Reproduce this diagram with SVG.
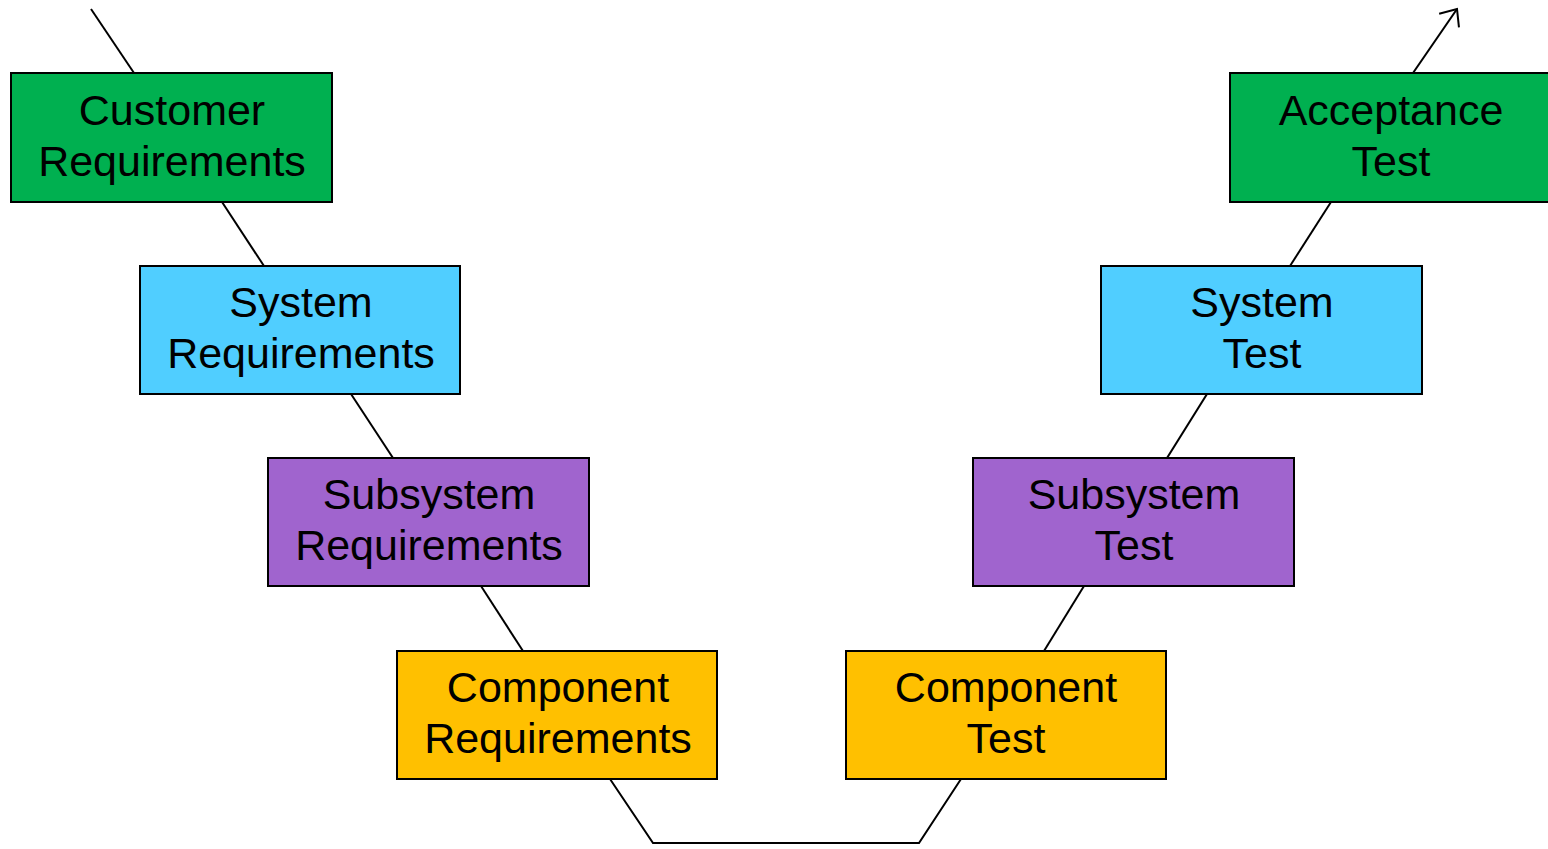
<svg xmlns="http://www.w3.org/2000/svg" width="1548" height="849" viewBox="0 0 1548 849">
  <style>
    .box { stroke: #000; stroke-width: 2; }
    .green { fill: #00B050; }
    .blue { fill: #50CEFF; }
    .purple { fill: #A064CE; }
    .gold { fill: #FFC000; }
    .lbl { font-family: "Liberation Sans", Arial, sans-serif; font-size: 43px; fill: #000; text-anchor: middle; }
    .conn { fill: none; stroke: #000; stroke-width: 2; }
  </style>
  <defs>
    <marker id="open" markerUnits="userSpaceOnUse" markerWidth="30" markerHeight="30" viewBox="-16 -15 20 30" refX="0" refY="0" orient="auto">
      <path d="M -14 -12 L 0 0 L -14 12" fill="none" stroke="#000" stroke-width="2"/>
    </marker>
  </defs>
  <rect width="1548" height="849" fill="#fff"/>
  <g id="connectors">
    <line class="conn" x1="91" y1="9" x2="134" y2="73"/>
    <line class="conn" x1="222" y1="202" x2="264" y2="266"/>
    <line class="conn" x1="351" y1="394" x2="393" y2="458"/>
    <line class="conn" x1="481" y1="586" x2="523" y2="651"/>
    <polyline class="conn" points="610,779 653,843 919,843 961,779"/>
    <line class="conn" x1="1084" y1="586" x2="1044" y2="651"/>
    <line class="conn" x1="1207" y1="394" x2="1167" y2="458"/>
    <line class="conn" x1="1331" y1="202" x2="1290" y2="266"/>
    <line class="conn" x1="1413" y1="73" x2="1457" y2="9" marker-end="url(#open)"/>
  </g>
  <g id="customer-requirements">
    <rect class="box green" x="11" y="73" width="321" height="129"/>
    <text class="lbl" x="172" y="125">Customer</text>
    <text class="lbl" x="172" y="176">Requirements</text>
  </g>
  <g id="system-requirements">
    <rect class="box blue" x="140" y="266" width="320" height="128"/>
    <text class="lbl" x="301" y="317">System</text>
    <text class="lbl" x="301" y="368">Requirements</text>
  </g>
  <g id="subsystem-requirements">
    <rect class="box purple" x="268" y="458" width="321" height="128"/>
    <text class="lbl" x="429" y="509">Subsystem</text>
    <text class="lbl" x="429" y="560">Requirements</text>
  </g>
  <g id="component-requirements">
    <rect class="box gold" x="397" y="651" width="320" height="128"/>
    <text class="lbl" x="558" y="702">Component</text>
    <text class="lbl" x="558" y="753">Requirements</text>
  </g>
  <g id="component-test">
    <rect class="box gold" x="846" y="651" width="320" height="128"/>
    <text class="lbl" x="1006" y="702">Component</text>
    <text class="lbl" x="1006" y="753">Test</text>
  </g>
  <g id="subsystem-test">
    <rect class="box purple" x="973" y="458" width="321" height="128"/>
    <text class="lbl" x="1134" y="509">Subsystem</text>
    <text class="lbl" x="1134" y="560">Test</text>
  </g>
  <g id="system-test">
    <rect class="box blue" x="1101" y="266" width="321" height="128"/>
    <text class="lbl" x="1262" y="317">System</text>
    <text class="lbl" x="1262" y="368">Test</text>
  </g>
  <g id="acceptance-test">
    <rect class="box green" x="1230" y="73" width="321" height="129"/>
    <text class="lbl" x="1391" y="125">Acceptance</text>
    <text class="lbl" x="1391" y="176">Test</text>
  </g>
</svg>
